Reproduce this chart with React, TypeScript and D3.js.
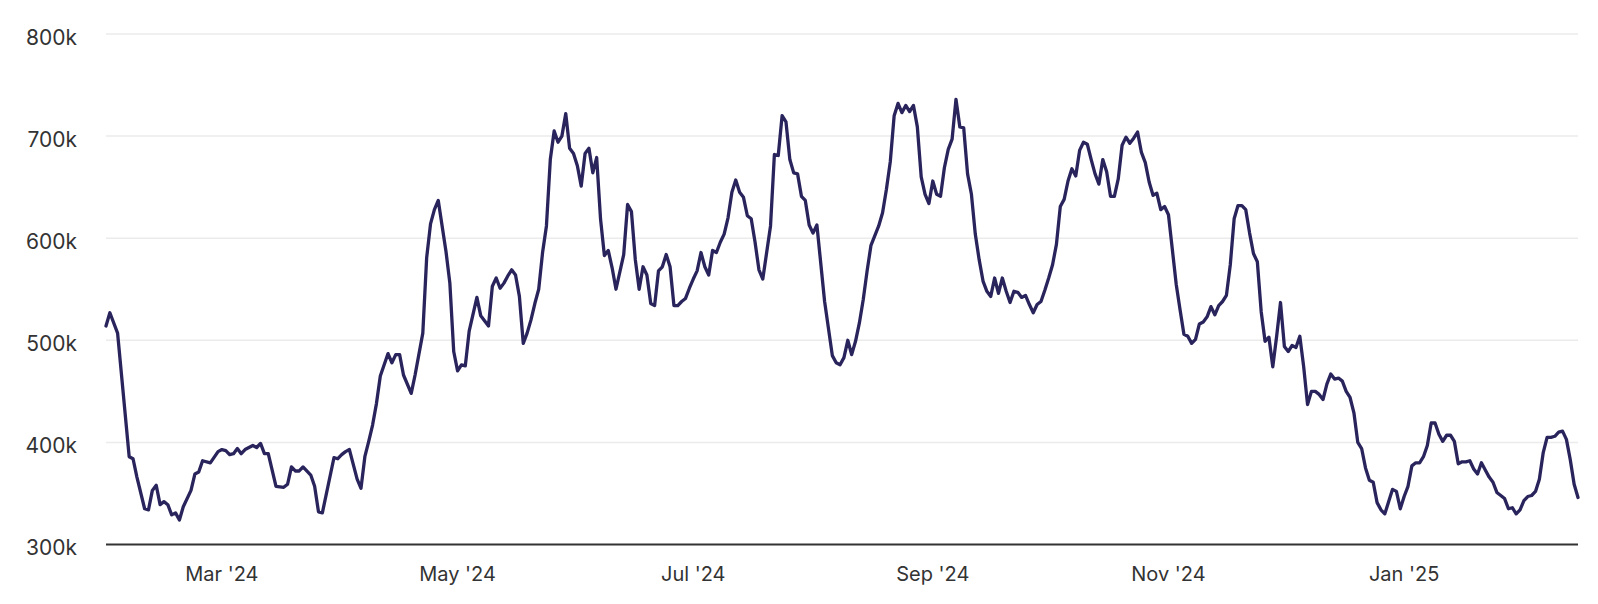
import React from "react";
import * as d3 from "d3";

// Daily series: offsets (days since 2024-01-31) and values (thousands)
const startDate = "2024-01-31";
const dayOffsets = [
  0, 1, 3, 6, 7, 8, 10, 11, 12, 13, 14, 15, 16, 17, 18, 19, 20, 22, 23, 24, 25, 27, 29, 30, 31, 32, 33, 34, 35, 36,
  38, 39, 40, 41, 42, 44, 46, 47, 48, 49, 50, 51, 53, 54, 55, 56, 59, 60, 61, 62, 63, 65, 66, 67, 68, 69, 70, 71, 72, 73,
  74, 75, 76, 77, 79, 80, 82, 83, 84, 85, 86, 88, 89, 90, 91, 92, 93, 94, 96, 97, 99, 100, 101, 102, 103, 104, 105, 106, 107, 108,
  109, 110, 111, 112, 113, 114, 115, 116, 117, 118, 119, 120, 121, 122, 123, 124, 125, 126, 127, 128, 129, 130, 131, 132, 134, 135, 136, 137, 138, 139,
  140, 141, 142, 143, 144, 145, 146, 147, 148, 149, 150, 151, 152, 153, 154, 155, 156, 157, 158, 159, 160, 161, 162, 163, 164, 165, 166, 167, 168, 169,
  170, 172, 173, 174, 175, 176, 177, 178, 179, 180, 181, 182, 183, 184, 186, 188, 189, 190, 191, 192, 193, 194, 195, 196, 197, 198, 200, 201, 202, 203,
  204, 205, 206, 207, 208, 209, 210, 211, 212, 213, 214, 215, 216, 217, 218, 219, 220, 221, 222, 223, 224, 225, 226, 227, 228, 229, 230, 231, 232, 233,
  234, 235, 236, 237, 238, 239, 240, 241, 242, 243, 244, 245, 246, 247, 248, 249, 250, 251, 252, 253, 254, 255, 256, 257, 258, 259, 260, 261, 262, 263,
  264, 265, 266, 267, 268, 269, 270, 271, 272, 273, 274, 275, 276, 277, 278, 279, 280, 281, 282, 283, 284, 285, 286, 287, 288, 289, 290, 291, 292, 293,
  294, 295, 296, 297, 298, 299, 300, 301, 302, 303, 304, 305, 306, 307, 308, 309, 310, 311, 312, 313, 314, 315, 316, 317, 318, 319, 320, 321, 322, 323,
  324, 325, 326, 327, 328, 329, 330, 331, 332, 333, 334, 335, 336, 337, 338, 339, 340, 341, 342, 343, 344, 345, 346, 347, 348, 349, 350, 351, 352, 353,
  354, 355, 356, 357, 358, 359, 360, 361, 362, 363, 364, 365, 366, 367, 368, 369, 370, 371, 372, 373, 374, 375, 376, 377, 378, 379, 380, 381,
];
const valuesK = [
  514, 527, 507, 386, 384, 366, 335, 334, 353, 358, 339, 342, 339, 329, 331, 324, 337, 353, 369, 371, 382, 380, 391, 393, 392, 388, 389, 394, 389, 393,
  397, 395, 399, 389, 389, 357, 356, 359, 376, 372, 372, 376, 368, 357, 332, 331, 385, 384, 388, 391, 393, 364, 355, 386, 401, 417, 438, 465, 476, 487,
  478, 486, 486, 466, 448, 466, 507, 581, 614, 628, 637, 587, 556, 489, 470, 476, 475, 509, 542, 524, 514, 553, 561, 551, 556, 563, 569, 564, 543, 497,
  507, 520, 536, 550, 586, 612, 677, 705, 694, 700, 722, 688, 683, 671, 651, 683, 688, 664, 679, 619, 583, 588, 571, 550, 584, 633, 626, 579, 550, 572,
  564, 536, 534, 568, 572, 584, 572, 534, 534, 538, 541, 551, 560, 568, 586, 572, 564, 588, 586, 596, 604, 620, 645, 657, 645, 640, 622, 619, 596, 569,
  560, 612, 682, 681, 720, 714, 677, 664, 663, 641, 637, 613, 605, 613, 538, 485, 478, 476, 483, 500, 486, 499, 517, 540, 568, 593, 612, 625, 648, 675,
  720, 732, 723, 730, 724, 730, 709, 660, 643, 634, 656, 643, 641, 669, 687, 697, 736, 709, 708, 663, 643, 604, 579, 558, 548, 543, 561, 546, 561, 548,
  537, 548, 547, 542, 544, 535, 527, 535, 538, 549, 561, 574, 594, 631, 638, 656, 668, 661, 686, 694, 692, 677, 663, 653, 677, 665, 641, 641, 658, 691,
  699, 693, 698, 704, 684, 674, 655, 642, 644, 628, 631, 623, 589, 555, 530, 506, 504, 497, 501, 516, 518, 523, 533, 525, 534, 538, 544, 574, 619, 632,
  632, 628, 605, 585, 577, 528, 499, 503, 474, 504, 537, 494, 489, 495, 493, 504, 474, 437, 450, 450, 447, 442, 457, 467, 462, 463, 460, 450, 444, 429,
  400, 394, 375, 363, 361, 341, 334, 330, 342, 354, 352, 335, 347, 357, 377, 380, 380, 386, 397, 419, 419, 408, 401, 407, 407, 401, 379, 381, 381, 382,
  374, 369, 380, 373, 366, 361, 351, 348, 345, 335, 336, 330, 334, 343, 347, 348, 352, 364, 390, 405, 405, 406, 410, 411, 403, 383, 359, 346,
];
const yTicksK = [300, 400, 500, 600, 700, 800];
const xTickDates = ["2024-03-01", "2024-05-01", "2024-07-01", "2024-09-01", "2024-11-01", "2025-01-01"];

const W = 1598;
const H = 604;
const M = { left: 106, right: 20, top: 34, bottom: 59.5 };

export default function App() {
  const parse = d3.timeParse("%Y-%m-%d");
  const start = parse(startDate)!;
  const data = dayOffsets.map((d, i) => ({ date: d3.timeDay.offset(start, d), v: valuesK[i] }));
  const end = d3.timeDay.offset(start, dayOffsets[dayOffsets.length - 1]);

  const x = d3.scaleTime().domain([start, end]).range([M.left, W - M.right]);
  const y = d3.scaleLinear().domain([300, 800]).range([H - M.bottom, M.top]);

  const line = d3
    .line<{ date: Date; v: number }>()
    .x((d) => x(d.date))
    .y((d) => y(d.v));

  const fmt = d3.timeFormat("%b '%y");
  const font = "Inter, 'Noto Sans', sans-serif";

  return (
    <svg
      width={W}
      height={H}
      style={{ position: "absolute", left: 0, top: 0, background: "#fff" }}
    >
      {yTicksK.map((t) => (
        <g key={t}>
          {t !== 300 && (
            <line x1={M.left} x2={W - M.right} y1={y(t)} y2={y(t)} stroke="#ebebeb" strokeWidth={1.5} />
          )}
          <text
            x={77}
            y={y(t) + 10.5}
            textAnchor="end"
            fontFamily={font}
            fontSize={21}
            fill="#333"
          >
            {`${t}k`}
          </text>
        </g>
      ))}
      <line x1={M.left} x2={W - M.right} y1={y(300)} y2={y(300)} stroke="#333" strokeWidth={2} />
      {xTickDates.map((s) => {
        const dt = parse(s)!;
        return (
          <text
            key={s}
            x={x(dt)}
            y={581}
            textAnchor="middle"
            fontFamily={font}
            fontSize={20}
            fill="#333"
          >
            {fmt(dt)}
          </text>
        );
      })}
      <path
        d={line(data) || ""}
        fill="none"
        stroke="#29245c"
        strokeWidth={3.3}
        strokeLinejoin="round"
        strokeLinecap="round"
      />
    </svg>
  );
}
